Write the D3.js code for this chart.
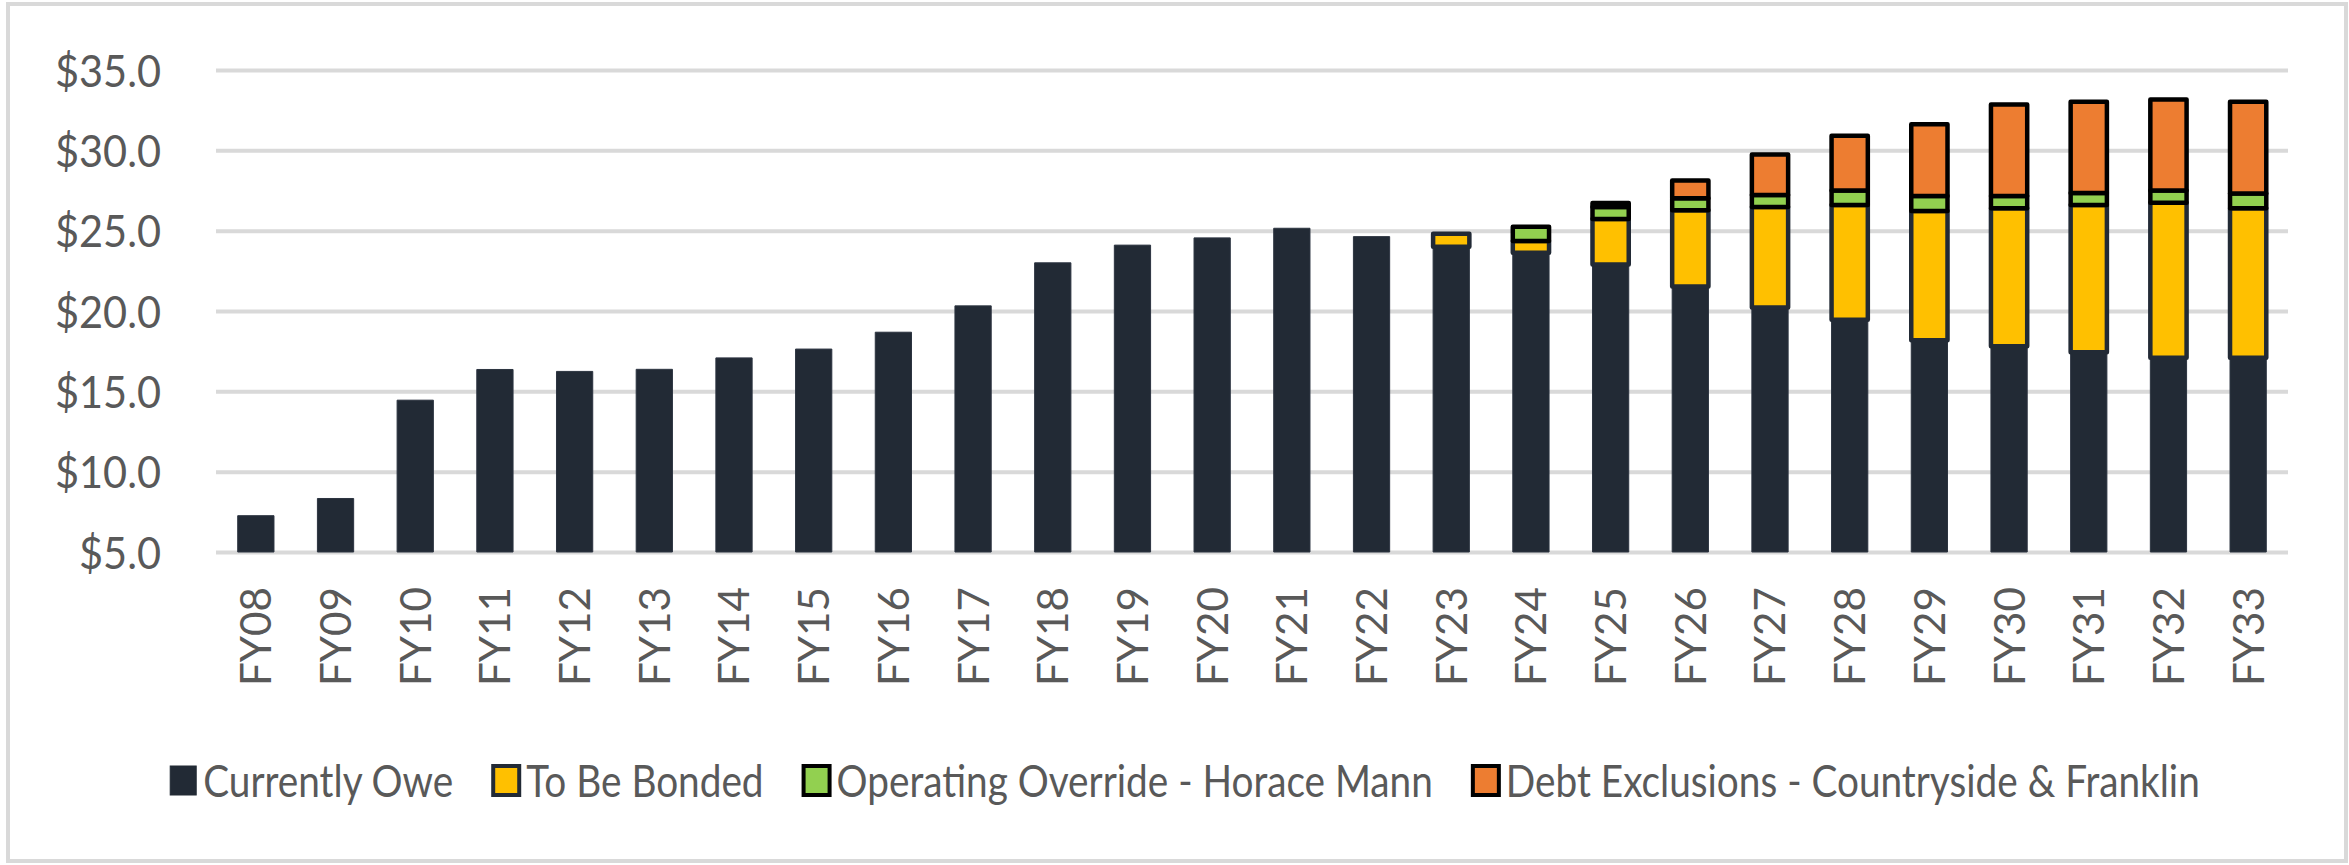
<!DOCTYPE html>
<html>
  <head>
    <meta charset="utf-8" />
    <script src="https://d3js.org/d3.v7.min.js"></script>
    <style>
      body { margin: 0; background: #fff; }
      text { font-family: Lato, "Open Sans", sans-serif; fill: #595959; }
    </style>
  </head>
  <body>
    <div id="chart"></div>
    <script>
      // data ($ millions)
      const years = ["FY08","FY09","FY10","FY11","FY12","FY13","FY14","FY15","FY16","FY17","FY18","FY19","FY20",
        "FY21","FY22","FY23","FY24","FY25","FY26","FY27","FY28","FY29","FY30","FY31","FY32","FY33"];
      const currentlyOwe = [7.26, 8.33, 14.45, 16.36, 16.24, 16.37, 17.08, 17.63, 18.68, 20.32, 23.0, 24.1, 24.55,
        25.15, 24.63, 24.0, 23.63, 22.9, 21.52, 20.22, 19.45, 18.18, 17.81, 17.44, 17.09, 17.09];
      const toBeBonded = [0, 0, 0, 0, 0, 0, 0, 0, 0, 0, 0, 0, 0,
        0, 0, 0.81, 0.72, 2.83, 4.75, 6.25, 7.15, 8.05, 8.58, 9.15, 9.65, 9.3];
      const override = [0, 0, 0, 0, 0, 0, 0, 0, 0, 0, 0, 0, 0,
        0, 0, 0, 0.9, 0.74, 0.75, 0.75, 0.9, 0.92, 0.76, 0.76, 0.76, 0.93];
      const debtExcl = [0, 0, 0, 0, 0, 0, 0, 0, 0, 0, 0, 0, 0,
        0, 0, 0, 0, 0.25, 1.1, 2.52, 3.4, 4.47, 5.71, 5.67, 5.66, 5.7];
      const yTicks = [5, 10, 15, 20, 25, 30, 35];

      const series = [
        { name: "Currently Owe", values: currentlyOwe, fill: "#222A35", stroke: "#2c3440", sw: 1 },
        { name: "To Be Bonded", values: toBeBonded, fill: "#FFC000", stroke: "#222A35", sw: 4.5 },
        { name: "Operating Override - Horace Mann", values: override, fill: "#92D050", stroke: "#000", sw: 4.5 },
        { name: "Debt Exclusions - Countryside & Franklin", values: debtExcl, fill: "#ED7D31", stroke: "#000", sw: 4.5 },
      ];

      const W = 2349, H = 865;
      const plot = { left: 216, right: 2288, top: 70, bottom: 552 };

      const svg = d3.select("#chart").append("svg").attr("width", W).attr("height", H);

      // chart frame
      svg.append("rect").attr("x", 8).attr("y", 4).attr("width", 2338).attr("height", 857)
        .attr("fill", "#fff").attr("stroke", "#D9D9D9").attr("stroke-width", 4);

      const x = d3.scaleBand().domain(years).range([plot.left, plot.right]).paddingInner(0.545).paddingOuter(0.2725);
      const y = d3.scaleLinear().domain([5, 35]).range([plot.bottom, plot.top]);

      // y axis + gridlines
      const yAxis = svg.append("g").attr("transform", `translate(${plot.left},0)`)
        .call(d3.axisLeft(y).tickValues(yTicks).tickFormat((d) => "$" + d.toFixed(1))
          .tickSize(-(plot.right - plot.left)).tickPadding(55));
      yAxis.select(".domain").remove();
      yAxis.selectAll("line").attr("stroke", "#D9D9D9").attr("stroke-width", 4);
      yAxis.selectAll("text").attr("font-size", 45).attr("dy", "0.36em");
      squeeze(yAxis.selectAll("text"), "$35.0", 106, 45);

      // stacked bars
      const stackData = years.map((yr, i) => {
        const row = { year: yr };
        series.forEach((s) => (row[s.name] = s.values[i]));
        return row;
      });
      const stacked = d3.stack().keys(series.map((s) => s.name))(stackData);

      stacked.forEach((layer, k) => {
        const s = series[k];
        svg.append("g").selectAll("rect")
          .data(layer.filter((d) => d[1] - d[0] > 0))
          .join("rect")
          .attr("x", (d) => x(d.data.year))
          .attr("width", x.bandwidth())
          .attr("y", (d) => y(d[1]))
          .attr("height", (d) => Math.max(0, y(Math.max(d[0], 5)) - y(d[1])))
          .attr("fill", s.fill)
          .attr("stroke", s.stroke)
          .attr("stroke-width", s.sw)
          .attr("stroke-linejoin", "round");
      });

      // x axis labels
      const xAxis = svg.append("g").attr("transform", `translate(0,${plot.bottom})`)
        .call(d3.axisBottom(x).tickSize(0));
      xAxis.select(".domain").remove();
      xAxis.selectAll("text")
        .attr("font-size", 43)
        .attr("text-anchor", "end")
        .attr("transform", "rotate(-90)")
        .attr("x", -35)
        .attr("y", 0)
        .attr("dy", "0.36em");
      squeeze(xAxis.selectAll("text"), "FY08", 99, 43);

      // legend
      const legend = svg.append("g");
      let items = [];
      series.forEach((s) => {
        const g = legend.append("g");
        g.append("rect").attr("width", 26).attr("height", 29).attr("y", 766)
          .attr("fill", s.fill).attr("stroke", s.sw > 1 ? s.stroke : s.fill).attr("stroke-width", s.sw > 1 ? 4 : 1);
        g.append("text").attr("x", 33).attr("y", 797).attr("font-size", 45).text(s.name);
        items.push(g);
      });
      squeeze(legend.selectAll("text"), "Currently Owe", 250, 45);
      const widths = items.map((g) => 33 + +g.select("text").attr("textLength"));
      const total = d3.sum(widths) + 40 * (items.length - 1);
      let cx = 1185 - total / 2;
      items.forEach((g, i) => {
        g.attr("transform", `translate(${cx},0)`);
        cx += widths[i] + 40;
      });

      // narrow the text to the condensed look of the reference
      function squeeze(sel, sample, target, size) {
        const probe = svg.append("text").attr("font-size", size).text(sample);
        const k = target / probe.node().getComputedTextLength();
        probe.remove();
        sel.each(function () {
          const len = this.getComputedTextLength();
          d3.select(this).attr("textLength", len * k).attr("lengthAdjust", "spacingAndGlyphs");
        });
      }
    </script>
  </body>
</html>
